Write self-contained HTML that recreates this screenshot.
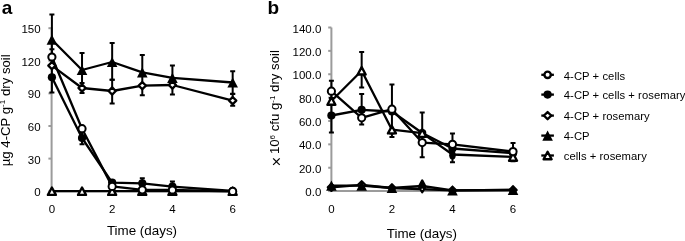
<!DOCTYPE html>
<html><head><meta charset="utf-8"><style>
html,body{margin:0;padding:0;background:#fff;width:685px;height:241px;overflow:hidden;}
svg{display:block;font-family:"Liberation Sans", sans-serif;will-change:transform;}
</style></head><body>
<svg width="685" height="241" viewBox="0 0 685 241" fill="#000">
<path d="M51.6 27.3V191.2H232.7" stroke="#9b9b9b" stroke-width="2" fill="none"/>
<path d="M48.4 191.20H51.6" stroke="#9b9b9b" stroke-width="2"/>
<text transform="translate(40.60 196.10) scale(1.0 1)" text-anchor="end" font-size="11.5">0</text>
<path d="M48.4 158.60H51.6" stroke="#9b9b9b" stroke-width="2"/>
<text transform="translate(40.60 163.50) scale(1.0 1)" text-anchor="end" font-size="11.5">30</text>
<path d="M48.4 126.00H51.6" stroke="#9b9b9b" stroke-width="2"/>
<text transform="translate(40.60 130.90) scale(1.0 1)" text-anchor="end" font-size="11.5">60</text>
<path d="M48.4 93.40H51.6" stroke="#9b9b9b" stroke-width="2"/>
<text transform="translate(40.60 98.30) scale(1.0 1)" text-anchor="end" font-size="11.5">90</text>
<path d="M48.4 60.80H51.6" stroke="#9b9b9b" stroke-width="2"/>
<text transform="translate(40.60 65.70) scale(1.0 1)" text-anchor="end" font-size="11.5">120</text>
<path d="M48.4 28.19H51.6" stroke="#9b9b9b" stroke-width="2"/>
<text transform="translate(40.60 33.09) scale(1.0 1)" text-anchor="end" font-size="11.5">150</text>
<text transform="translate(51.90 213.20) scale(1.0 1)" text-anchor="middle" font-size="11.5">0</text>
<text transform="translate(112.16 213.20) scale(1.0 1)" text-anchor="middle" font-size="11.5">2</text>
<text transform="translate(172.42 213.20) scale(1.0 1)" text-anchor="middle" font-size="11.5">4</text>
<text transform="translate(232.68 213.20) scale(1.0 1)" text-anchor="middle" font-size="11.5">6</text>
<text x="141.99" y="234.9" text-anchor="middle" font-size="13.4">Time (days)</text>
<text transform="translate(9.8 110.3) rotate(-90)" text-anchor="middle" font-size="13.2">µg 4-CP g<tspan dy="-4.7" font-size="8">-1</tspan><tspan dy="4.7"> dry soil</tspan></text>
<text x="1.8" y="14" font-size="19" font-weight="bold">a</text>
<path d="M51.90 39.70V14.40M49.40 14.40H54.40" stroke="#000" stroke-width="2" fill="none"/>
<path d="M51.90 39.70V66.60M49.40 66.60H54.40" stroke="#000" stroke-width="2" fill="none"/>
<path d="M82.03 70.00V53.00M79.53 53.00H84.53" stroke="#000" stroke-width="2" fill="none"/>
<path d="M82.03 70.00V87.00M79.53 87.00H84.53" stroke="#000" stroke-width="2" fill="none"/>
<path d="M112.16 62.00V43.00M109.66 43.00H114.66" stroke="#000" stroke-width="2" fill="none"/>
<path d="M112.16 62.00V79.80M109.66 79.80H114.66" stroke="#000" stroke-width="2" fill="none"/>
<path d="M142.29 72.30V55.00M139.79 55.00H144.79" stroke="#000" stroke-width="2" fill="none"/>
<path d="M142.29 72.30V86.00M139.79 86.00H144.79" stroke="#000" stroke-width="2" fill="none"/>
<path d="M172.42 77.80V65.60M169.92 65.60H174.92" stroke="#000" stroke-width="2" fill="none"/>
<path d="M172.42 77.80V86.00M169.92 86.00H174.92" stroke="#000" stroke-width="2" fill="none"/>
<path d="M232.68 82.50V71.20M230.18 71.20H235.18" stroke="#000" stroke-width="2" fill="none"/>
<path d="M232.68 82.50V93.70M230.18 93.70H235.18" stroke="#000" stroke-width="2" fill="none"/>
<path d="M82.03 88.00V83.00M79.53 83.00H84.53" stroke="#000" stroke-width="2" fill="none"/>
<path d="M82.03 88.00V93.00M79.53 93.00H84.53" stroke="#000" stroke-width="2" fill="none"/>
<path d="M112.16 91.00V79.80M109.66 79.80H114.66" stroke="#000" stroke-width="2" fill="none"/>
<path d="M112.16 91.00V103.60M109.66 103.60H114.66" stroke="#000" stroke-width="2" fill="none"/>
<path d="M142.29 85.60V95.30M139.79 95.30H144.79" stroke="#000" stroke-width="2" fill="none"/>
<path d="M172.42 85.00V94.60M169.92 94.60H174.92" stroke="#000" stroke-width="2" fill="none"/>
<path d="M232.68 100.60V94.00M230.18 94.00H235.18" stroke="#000" stroke-width="2" fill="none"/>
<path d="M232.68 100.60V105.70M230.18 105.70H235.18" stroke="#000" stroke-width="2" fill="none"/>
<path d="M51.90 77.30V60.00M49.40 60.00H54.40" stroke="#000" stroke-width="2" fill="none"/>
<path d="M51.90 77.30V92.40M49.40 92.40H54.40" stroke="#000" stroke-width="2" fill="none"/>
<path d="M82.03 138.00V132.00M79.53 132.00H84.53" stroke="#000" stroke-width="2" fill="none"/>
<path d="M82.03 138.00V144.20M79.53 144.20H84.53" stroke="#000" stroke-width="2" fill="none"/>
<path d="M172.42 186.60V181.60M169.92 181.60H174.92" stroke="#000" stroke-width="2" fill="none"/>
<path d="M51.90 57.00V49.20M49.40 49.20H54.40" stroke="#000" stroke-width="2" fill="none"/>
<path d="M51.90 57.00V64.80M49.40 64.80H54.40" stroke="#000" stroke-width="2" fill="none"/>
<path d="M142.29 189.80V178.30M139.79 178.30H144.79" stroke="#000" stroke-width="2" fill="none"/>
<polyline points="51.90,191.20 82.03,191.20 112.16,191.20 142.29,191.20 172.42,191.20 232.68,191.20" fill="none" stroke="#000" stroke-width="2.3" stroke-linejoin="round"/>
<polyline points="51.90,39.70 82.03,70.00 112.16,62.00 142.29,72.30 172.42,77.80 232.68,82.50" fill="none" stroke="#000" stroke-width="2.3" stroke-linejoin="round"/>
<polyline points="51.90,65.60 82.03,88.00 112.16,91.00 142.29,85.60 172.42,85.00 232.68,100.60" fill="none" stroke="#000" stroke-width="2.3" stroke-linejoin="round"/>
<polyline points="51.90,77.30 82.03,138.00 112.16,182.70 142.29,183.30 172.42,186.60 232.68,191.00" fill="none" stroke="#000" stroke-width="2.3" stroke-linejoin="round"/>
<polyline points="51.90,57.00 82.03,128.70 112.16,186.40 142.29,189.80 172.42,190.00 232.68,191.40" fill="none" stroke="#000" stroke-width="2.3" stroke-linejoin="round"/>
<circle cx="51.90" cy="77.30" r="4.1" fill="#000"/>
<circle cx="82.03" cy="138.00" r="4.1" fill="#000"/>
<circle cx="112.16" cy="182.70" r="4.1" fill="#000"/>
<circle cx="142.29" cy="183.30" r="4.1" fill="#000"/>
<circle cx="172.42" cy="186.60" r="4.1" fill="#000"/>
<circle cx="232.68" cy="191.00" r="4.1" fill="#000"/>
<path d="M51.90 62.00L55.50 65.60L51.90 69.20L48.30 65.60Z" fill="#fff" stroke="#000" stroke-width="2.3" stroke-linejoin="round"/>
<path d="M82.03 84.40L85.63 88.00L82.03 91.60L78.43 88.00Z" fill="#fff" stroke="#000" stroke-width="2.3" stroke-linejoin="round"/>
<path d="M112.16 87.40L115.76 91.00L112.16 94.60L108.56 91.00Z" fill="#fff" stroke="#000" stroke-width="2.3" stroke-linejoin="round"/>
<path d="M142.29 82.00L145.89 85.60L142.29 89.20L138.69 85.60Z" fill="#fff" stroke="#000" stroke-width="2.3" stroke-linejoin="round"/>
<path d="M172.42 81.40L176.02 85.00L172.42 88.60L168.82 85.00Z" fill="#fff" stroke="#000" stroke-width="2.3" stroke-linejoin="round"/>
<path d="M232.68 97.00L236.28 100.60L232.68 104.20L229.08 100.60Z" fill="#fff" stroke="#000" stroke-width="2.3" stroke-linejoin="round"/>
<path d="M51.90 34.60L57.20 44.80L46.60 44.80Z" fill="#000"/>
<path d="M82.03 64.90L87.33 75.10L76.73 75.10Z" fill="#000"/>
<path d="M112.16 56.90L117.46 67.10L106.86 67.10Z" fill="#000"/>
<path d="M142.29 67.20L147.59 77.40L136.99 77.40Z" fill="#000"/>
<path d="M172.42 72.70L177.72 82.90L167.12 82.90Z" fill="#000"/>
<path d="M232.68 77.40L237.98 87.60L227.38 87.60Z" fill="#000"/>
<path d="M51.90 187.50L55.90 194.90L47.90 194.90Z" fill="#fff" stroke="#000" stroke-width="2.35" stroke-linejoin="round"/>
<path d="M82.03 187.50L86.03 194.90L78.03 194.90Z" fill="#fff" stroke="#000" stroke-width="2.35" stroke-linejoin="round"/>
<path d="M112.16 187.50L116.16 194.90L108.16 194.90Z" fill="#fff" stroke="#000" stroke-width="2.35" stroke-linejoin="round"/>
<path d="M142.29 187.50L146.29 194.90L138.29 194.90Z" fill="#fff" stroke="#000" stroke-width="2.35" stroke-linejoin="round"/>
<path d="M172.42 187.50L176.42 194.90L168.42 194.90Z" fill="#fff" stroke="#000" stroke-width="2.35" stroke-linejoin="round"/>
<path d="M232.68 187.50L236.68 194.90L228.68 194.90Z" fill="#fff" stroke="#000" stroke-width="2.35" stroke-linejoin="round"/>
<circle cx="51.90" cy="57.00" r="3.6" fill="#fff" stroke="#000" stroke-width="2.0"/>
<circle cx="82.03" cy="128.70" r="3.6" fill="#fff" stroke="#000" stroke-width="2.0"/>
<circle cx="112.16" cy="186.40" r="3.6" fill="#fff" stroke="#000" stroke-width="2.0"/>
<circle cx="142.29" cy="189.80" r="3.6" fill="#fff" stroke="#000" stroke-width="2.0"/>
<circle cx="172.42" cy="190.00" r="3.6" fill="#fff" stroke="#000" stroke-width="2.0"/>
<circle cx="232.68" cy="191.40" r="3.6" fill="#fff" stroke="#000" stroke-width="2.0"/>
<path d="M331.4 27.5V191.1H513.4" stroke="#9b9b9b" stroke-width="2" fill="none"/>
<path d="M328.2 191.10H331.4" stroke="#9b9b9b" stroke-width="2"/>
<text transform="translate(321.30 196.20) scale(1.0 1)" text-anchor="end" font-size="11.5">0.0</text>
<path d="M328.2 167.73H331.4" stroke="#9b9b9b" stroke-width="2"/>
<text transform="translate(321.30 172.83) scale(1.0 1)" text-anchor="end" font-size="11.5">20.0</text>
<path d="M328.2 144.36H331.4" stroke="#9b9b9b" stroke-width="2"/>
<text transform="translate(321.30 149.46) scale(1.0 1)" text-anchor="end" font-size="11.5">40.0</text>
<path d="M328.2 120.99H331.4" stroke="#9b9b9b" stroke-width="2"/>
<text transform="translate(321.30 126.09) scale(1.0 1)" text-anchor="end" font-size="11.5">60.0</text>
<path d="M328.2 97.61H331.4" stroke="#9b9b9b" stroke-width="2"/>
<text transform="translate(321.30 102.71) scale(1.0 1)" text-anchor="end" font-size="11.5">80.0</text>
<path d="M328.2 74.24H331.4" stroke="#9b9b9b" stroke-width="2"/>
<text transform="translate(321.30 79.34) scale(1.0 1)" text-anchor="end" font-size="11.5">100.0</text>
<path d="M328.2 50.87H331.4" stroke="#9b9b9b" stroke-width="2"/>
<text transform="translate(321.30 55.97) scale(1.0 1)" text-anchor="end" font-size="11.5">120.0</text>
<path d="M328.2 27.50H331.4" stroke="#9b9b9b" stroke-width="2"/>
<text transform="translate(321.30 32.60) scale(1.0 1)" text-anchor="end" font-size="11.5">140.0</text>
<text transform="translate(331.40 213.20) scale(1.0 1)" text-anchor="middle" font-size="11.5">0</text>
<text transform="translate(391.94 213.20) scale(1.0 1)" text-anchor="middle" font-size="11.5">2</text>
<text transform="translate(452.48 213.20) scale(1.0 1)" text-anchor="middle" font-size="11.5">4</text>
<text transform="translate(513.02 213.20) scale(1.0 1)" text-anchor="middle" font-size="11.5">6</text>
<text x="421.91" y="237.7" text-anchor="middle" font-size="13.4">Time (days)</text>
<text transform="translate(279.3 108.3) rotate(-90)" text-anchor="middle" font-size="13.2"><tspan font-size="16.5" dy="2.4">×</tspan><tspan dy="-2.4" dx="-1"> 10</tspan><tspan dy="-4.7" font-size="8">6</tspan><tspan dy="4.7"> cfu g</tspan><tspan dy="-4.7" font-size="8">-1</tspan><tspan dy="4.7"> dry soil</tspan></text>
<text x="267.5" y="14" font-size="19" font-weight="bold">b</text>
<path d="M361.67 70.80V52.00M359.17 52.00H364.17" stroke="#000" stroke-width="2" fill="none"/>
<path d="M361.67 70.80V87.40M359.17 87.40H364.17" stroke="#000" stroke-width="2" fill="none"/>
<path d="M391.94 129.70V137.00M389.44 137.00H394.44" stroke="#000" stroke-width="2" fill="none"/>
<path d="M331.40 115.50V98.00M328.90 98.00H333.90" stroke="#000" stroke-width="2" fill="none"/>
<path d="M331.40 115.50V132.60M328.90 132.60H333.90" stroke="#000" stroke-width="2" fill="none"/>
<path d="M331.40 91.20V80.80M328.90 80.80H333.90" stroke="#000" stroke-width="2" fill="none"/>
<path d="M331.40 91.20V101.60M328.90 101.60H333.90" stroke="#000" stroke-width="2" fill="none"/>
<path d="M361.67 117.80V94.00M359.17 94.00H364.17" stroke="#000" stroke-width="2" fill="none"/>
<path d="M361.67 117.80V124.50M359.17 124.50H364.17" stroke="#000" stroke-width="2" fill="none"/>
<path d="M391.94 109.20V84.60M389.44 84.60H394.44" stroke="#000" stroke-width="2" fill="none"/>
<path d="M391.94 109.20V133.50M389.44 133.50H394.44" stroke="#000" stroke-width="2" fill="none"/>
<path d="M422.21 142.60V112.60M419.71 112.60H424.71" stroke="#000" stroke-width="2" fill="none"/>
<path d="M422.21 142.60V157.20M419.71 157.20H424.71" stroke="#000" stroke-width="2" fill="none"/>
<path d="M452.48 144.30V133.40M449.98 133.40H454.98" stroke="#000" stroke-width="2" fill="none"/>
<path d="M452.48 144.30V162.30M449.98 162.30H454.98" stroke="#000" stroke-width="2" fill="none"/>
<path d="M513.02 151.60V142.90M510.52 142.90H515.52" stroke="#000" stroke-width="2" fill="none"/>
<path d="M513.02 151.60V161.30M510.52 161.30H515.52" stroke="#000" stroke-width="2" fill="none"/>
<polyline points="331.40,187.30 361.67,184.80 391.94,188.00 422.21,186.00 452.48,190.30 513.02,190.00" fill="none" stroke="#000" stroke-width="2.3" stroke-linejoin="round"/>
<polyline points="331.40,185.60 361.67,185.60 391.94,188.00 452.48,190.30 513.02,189.80" fill="none" stroke="#000" stroke-width="2.3" stroke-linejoin="round"/>
<polyline points="331.40,101.00 361.67,70.80 391.94,129.70 422.21,133.10 452.48,154.50 513.02,157.00" fill="none" stroke="#000" stroke-width="2.3" stroke-linejoin="round"/>
<polyline points="331.40,115.50 361.67,109.80 391.94,111.50 422.21,133.00 452.48,148.50 513.02,153.20" fill="none" stroke="#000" stroke-width="2.3" stroke-linejoin="round"/>
<polyline points="331.40,91.20 361.67,117.80 391.94,109.20 422.21,142.60 452.48,144.30 513.02,151.60" fill="none" stroke="#000" stroke-width="2.3" stroke-linejoin="round"/>
<circle cx="331.40" cy="115.50" r="4.1" fill="#000"/>
<circle cx="361.67" cy="109.80" r="4.1" fill="#000"/>
<circle cx="391.94" cy="111.50" r="4.1" fill="#000"/>
<circle cx="422.21" cy="133.00" r="4.1" fill="#000"/>
<circle cx="452.48" cy="148.50" r="4.1" fill="#000"/>
<circle cx="513.02" cy="153.20" r="4.1" fill="#000"/>
<path d="M331.40 183.70L335.00 187.30L331.40 190.90L327.80 187.30Z" fill="#fff" stroke="#000" stroke-width="2.3" stroke-linejoin="round"/>
<path d="M361.67 181.20L365.27 184.80L361.67 188.40L358.07 184.80Z" fill="#fff" stroke="#000" stroke-width="2.3" stroke-linejoin="round"/>
<path d="M391.94 184.40L395.54 188.00L391.94 191.60L388.34 188.00Z" fill="#fff" stroke="#000" stroke-width="2.3" stroke-linejoin="round"/>
<path d="M452.48 186.70L456.08 190.30L452.48 193.90L448.88 190.30Z" fill="#fff" stroke="#000" stroke-width="2.3" stroke-linejoin="round"/>
<path d="M513.02 186.40L516.62 190.00L513.02 193.60L509.42 190.00Z" fill="#fff" stroke="#000" stroke-width="2.3" stroke-linejoin="round"/>
<path d="M331.40 180.50L336.70 190.70L326.10 190.70Z" fill="#000"/>
<path d="M361.67 180.50L366.97 190.70L356.37 190.70Z" fill="#000"/>
<path d="M391.94 182.90L397.24 193.10L386.64 193.10Z" fill="#000"/>
<path d="M452.48 185.20L457.78 195.40L447.18 195.40Z" fill="#000"/>
<path d="M513.02 184.70L518.32 194.90L507.72 194.90Z" fill="#000"/>
<path d="M331.40 97.30L335.40 104.70L327.40 104.70Z" fill="#fff" stroke="#000" stroke-width="2.35" stroke-linejoin="round"/>
<path d="M361.67 67.10L365.67 74.50L357.67 74.50Z" fill="#fff" stroke="#000" stroke-width="2.35" stroke-linejoin="round"/>
<path d="M391.94 126.00L395.94 133.40L387.94 133.40Z" fill="#fff" stroke="#000" stroke-width="2.35" stroke-linejoin="round"/>
<path d="M422.21 129.40L426.21 136.80L418.21 136.80Z" fill="#fff" stroke="#000" stroke-width="2.35" stroke-linejoin="round"/>
<path d="M513.02 153.30L517.02 160.70L509.02 160.70Z" fill="#fff" stroke="#000" stroke-width="2.35" stroke-linejoin="round"/>
<circle cx="331.40" cy="91.20" r="3.6" fill="#fff" stroke="#000" stroke-width="2.0"/>
<circle cx="361.67" cy="117.80" r="3.6" fill="#fff" stroke="#000" stroke-width="2.0"/>
<circle cx="391.94" cy="109.20" r="3.6" fill="#fff" stroke="#000" stroke-width="2.0"/>
<circle cx="422.21" cy="142.60" r="3.6" fill="#fff" stroke="#000" stroke-width="2.0"/>
<circle cx="452.48" cy="144.30" r="3.6" fill="#fff" stroke="#000" stroke-width="2.0"/>
<circle cx="513.02" cy="151.60" r="3.6" fill="#fff" stroke="#000" stroke-width="2.0"/>
<ellipse cx="452.48" cy="155.2" rx="3.3" ry="4.2" fill="#000"/>
<path d="M422.21 180.6L425.41 186.6L422.21 192.2L419.01 186.6Z" fill="#000" stroke="#000" stroke-width="2.4" stroke-linejoin="round"/>
<circle cx="422.21" cy="189.3" r="0.8" fill="#fff"/>
<path d="M541.3 74.80H553.9" stroke="#000" stroke-width="2.3"/>
<circle cx="547.60" cy="74.80" r="3.2" fill="#fff" stroke="#000" stroke-width="2.4"/>
<text x="563.8" y="79.50" font-size="11.25" letter-spacing="0.05">4-CP + cells</text>
<path d="M541.3 94.60H553.9" stroke="#000" stroke-width="2.3"/>
<circle cx="547.60" cy="94.60" r="4.1" fill="#000"/>
<text x="563.8" y="99.30" font-size="11.25" letter-spacing="0.05">4-CP + cells + rosemary</text>
<path d="M541.3 115.60H553.9" stroke="#000" stroke-width="2.3"/>
<path d="M547.60 112.00L551.20 115.60L547.60 119.20L544.00 115.60Z" fill="#fff" stroke="#000" stroke-width="2.3" stroke-linejoin="round"/>
<text x="563.8" y="120.30" font-size="11.25" letter-spacing="0.05">4-CP + rosemary</text>
<path d="M541.3 135.60H553.9" stroke="#000" stroke-width="2.3"/>
<path d="M547.60 130.50L552.90 140.70L542.30 140.70Z" fill="#000"/>
<text x="563.8" y="140.30" font-size="11.25" letter-spacing="0.05">4-CP</text>
<path d="M541.3 155.50H553.9" stroke="#000" stroke-width="2.3"/>
<path d="M547.60 151.80L551.60 159.20L543.60 159.20Z" fill="#fff" stroke="#000" stroke-width="2.35" stroke-linejoin="round"/>
<text x="563.8" y="160.20" font-size="11.25" letter-spacing="0.05">cells + rosemary</text>
</svg>
</body></html>
